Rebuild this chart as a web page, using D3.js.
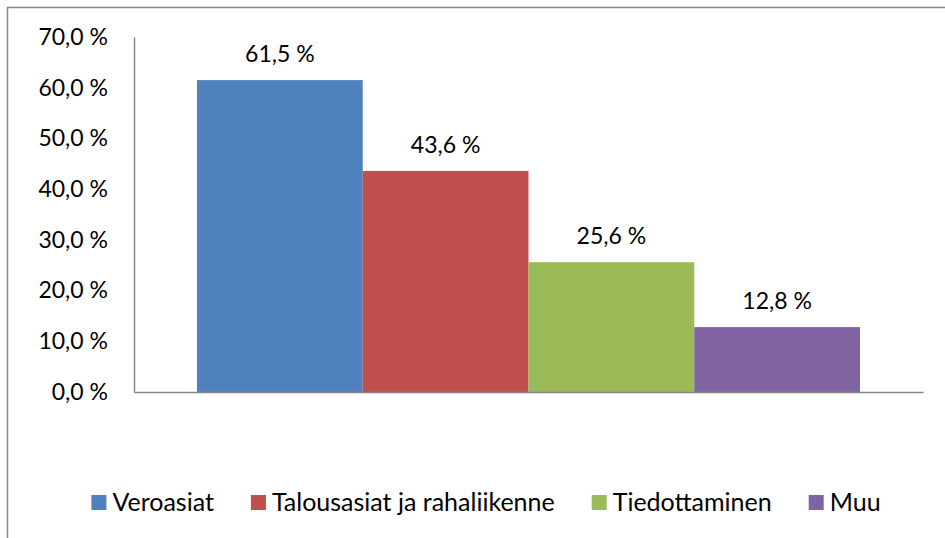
<!DOCTYPE html>
<html>
<head>
<meta charset="utf-8">
<script src="https://cdn.jsdelivr.net/npm/d3@7"></script>
<style>
  html, body { margin: 0; padding: 0; background: #fff; }
  svg { display: block; }
  text { font-family: Lato, "Open Sans", sans-serif; fill: #000; }
</style>
</head>
<body>
<svg id="chart" width="945" height="538"></svg>
<script>
const categories = ["Veroasiat", "Talousasiat ja rahaliikenne", "Tiedottaminen", "Muu"];
const values = [61.5, 43.6, 25.6, 12.8];
const colors = ["#4F81BD", "#C0504D", "#9BBB59", "#8064A2"];
const yTicks = [0, 10, 20, 30, 40, 50, 60, 70];

const fmt = v => d3.format(".1f")(v).replace(".", ",") + " %";

const svg = d3.select("#chart");

// chart frame (extends beyond the visible window on right and bottom)
svg.append("rect")
  .attr("x", 7.5).attr("y", 7.5)
  .attr("width", 1000).attr("height", 600)
  .attr("fill", "none")
  .attr("stroke", "#878787")
  .attr("stroke-width", 1.5);

const x = d3.scaleBand()
  .domain(categories)
  .range([134, 923])
  .paddingInner(0)
  .paddingOuter(0.38);

const y = d3.scaleLinear()
  .domain([0, 70])
  .range([392, 37]);

// bars
svg.append("g").selectAll("rect")
  .data(categories)
  .join("rect")
  .attr("x", d => x(d))
  .attr("width", x.bandwidth())
  .attr("y", (d, i) => y(values[i]))
  .attr("height", (d, i) => y(0) - y(values[i]))
  .attr("fill", (d, i) => colors[i]);

// y axis
const yAxis = d3.axisLeft(y)
  .tickValues(yTicks)
  .tickSize(0)
  .tickPadding(26)
  .tickFormat(fmt);

const gy = svg.append("g")
  .attr("transform", "translate(134,0)")
  .call(yAxis);
gy.select(".domain").attr("stroke", "#868686").attr("stroke-width", 1.5);
gy.selectAll(".tick text")
  .attr("font-size", 23)
  .attr("font-family", "Lato, sans-serif")
  .attr("fill", "#000");

// x baseline
const xAxis = d3.axisBottom(x).tickSize(0).tickFormat("");
const gx = svg.append("g")
  .attr("transform", `translate(0,${y(0)})`)
  .call(xAxis);
gx.select(".domain").attr("stroke", "#868686").attr("stroke-width", 1.5);
gx.selectAll(".tick").remove();

// data labels
svg.append("g").selectAll("text")
  .data(categories)
  .join("text")
  .attr("x", d => x(d) + x.bandwidth() / 2)
  .attr("y", (d, i) => y(values[i]) - 18)
  .attr("text-anchor", "middle")
  .attr("font-size", 23)
  .text((d, i) => fmt(values[i]));

// legend
const legend = svg.append("g");
const items = legend.selectAll("g")
  .data(categories)
  .join("g");
items.append("rect")
  .attr("width", 15).attr("height", 15)
  .attr("y", 495)
  .attr("fill", (d, i) => colors[i]);
items.append("text")
  .attr("x", 21)
  .attr("y", 511)
  .attr("font-size", 25)
  .text(d => d);

const gap = 37;
const widths = items.nodes().map(n => 21 + d3.select(n).select("text").node().getComputedTextLength());
const total = d3.sum(widths) + gap * (widths.length - 1);
let cx = 486 - total / 2;
items.attr("transform", (d, i) => {
  const t = `translate(${cx},0)`;
  cx += widths[i] + gap;
  return t;
});
</script>
</body>
</html>
